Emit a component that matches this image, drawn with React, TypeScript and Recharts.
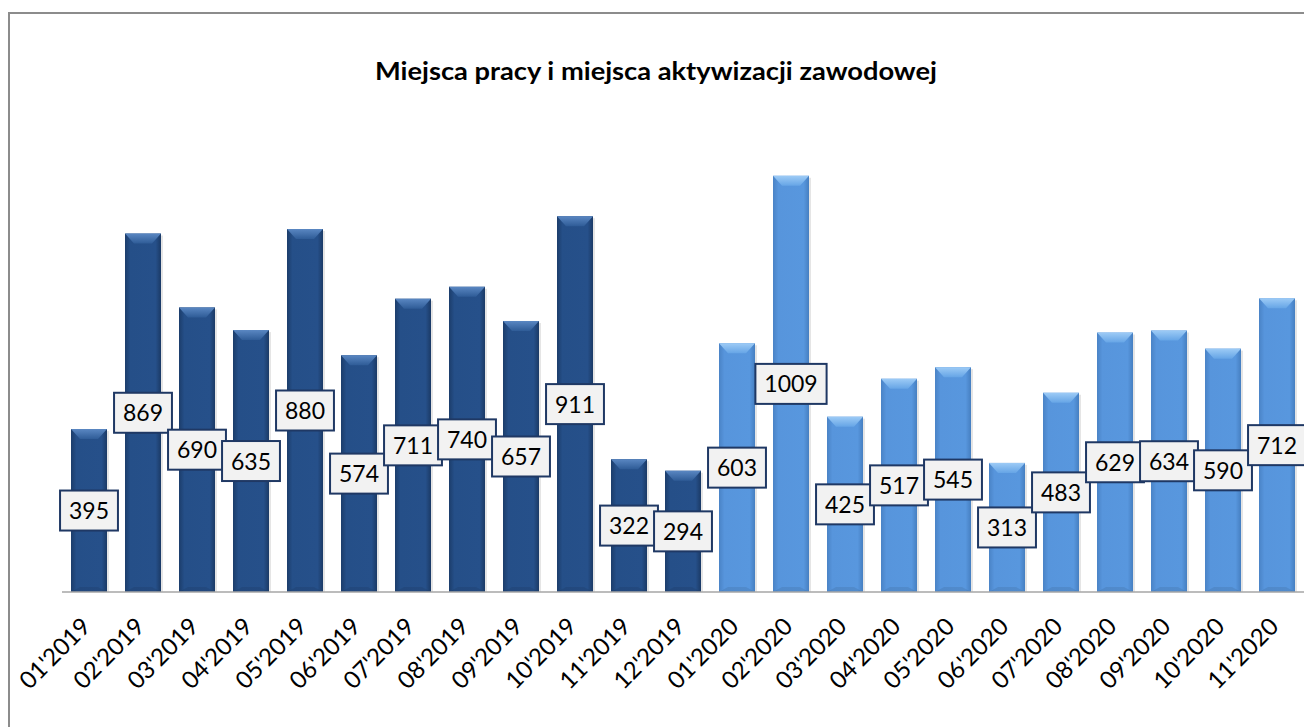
import { BarChart, Bar, XAxis, YAxis, LabelList } from 'recharts';

const months2019 = ["01'2019", "02'2019", "03'2019", "04'2019", "05'2019", "06'2019", "07'2019", "08'2019", "09'2019", "10'2019", "11'2019", "12'2019"];
const values2019 = [395, 869, 690, 635, 880, 574, 711, 740, 657, 911, 322, 294];
const months2020 = ["01'2020", "02'2020", "03'2020", "04'2020", "05'2020", "06'2020", "07'2020", "08'2020", "09'2020", "10'2020", "11'2020"];
const values2020 = [603, 1009, 425, 517, 545, 313, 483, 629, 634, 590, 712];

const data = [
  ...months2019.map((m, i) => ({ month: m, value: values2019[i], dark: true })),
  ...months2020.map((m, i) => ({ month: m, value: values2020[i], dark: false })),
];

const FONT = 'Lato, "Open Sans", sans-serif';

function BevelBar(props: any) {
  const { x, y, width, height, payload } = props;
  if (!height || height <= 0) return null;
  const k = payload.dark ? 'd' : 'l';
  const b = Math.min(10, height / 2);
  const inset = 9;
  return (
    <g>
      <rect x={x + 2} y={y + 2} width={width} height={height - 2} fill="#000" opacity={0.1} />
      <rect x={x} y={y} width={width} height={height} fill={`url(#body-${k})`} />
      <polygon
        points={`${x},${y} ${x + width},${y} ${x + width - inset},${y + b} ${x + inset},${y + b}`}
        fill={`url(#top-${k})`}
      />
      <polygon
        points={`${x},${y + height} ${x + width},${y + height} ${x + width - inset},${y + height - 5} ${x + inset},${y + height - 5}`}
        fill="#000"
        opacity={0.08}
      />
    </g>
  );
}

function ValueLabel(props: any) {
  const { x, y, width, height, value } = props;
  const cx = x + width / 2;
  const cy = y + height / 2;
  const s = String(value);
  const w = s.length * 13.3 + 18;
  const h = 40;
  return (
    <g>
      <rect x={cx - w / 2} y={cy - h / 2} width={w} height={h} fill="#f2f2f2" stroke="#1f3864" strokeWidth={2} />
      <text x={cx} y={cy + 8.5} textAnchor="middle" fontSize={23} fontFamily={FONT} fill="#000">
        {s}
      </text>
    </g>
  );
}

function MonthTick(props: any) {
  const { x, y, payload } = props;
  return (
    <g transform={`translate(${x + 3},${y + 28})`}>
      <text textAnchor="end" transform="rotate(-45)" fontSize={24} fontFamily={FONT} fill="#000">
        {payload.value}
      </text>
    </g>
  );
}

export default function App() {
  return (
    <div style={{ position: 'fixed', top: 0, left: 0, width: 1304, height: 727, overflow: 'hidden', background: '#fff' }}>
      <div
        style={{
          position: 'absolute',
          top: 12,
          left: 8,
          width: 1400,
          height: 900,
          borderTop: '2px solid #8c8c8c',
          borderLeft: '2px solid #8c8c8c',
        }}
      />
      <svg width={1304} height={100} style={{ position: 'absolute', top: 0, left: 0 }}>
        <text
          x={656}
          y={80}
          textAnchor="middle"
          fontSize={25}
          fontWeight="bold"
          fontFamily={FONT}
          fill="#000"
          textLength={562}
          lengthAdjust="spacingAndGlyphs"
        >
          Miejsca pracy i miejsca aktywizacji zawodowej
        </text>
      </svg>
      <div style={{ position: 'absolute', top: 0, left: 0 }}>
        <BarChart
          width={1304}
          height={727}
          data={data}
          margin={{ top: 97, right: 0, left: 62, bottom: 35 }}
          barCategoryGap={9}
        >
          <defs>
            <linearGradient id="body-d" x1="0" y1="0" x2="1" y2="0">
              <stop offset="0%" stopColor="#1c3d6b" />
              <stop offset="15%" stopColor="#254f88" />
              <stop offset="85%" stopColor="#26508a" />
              <stop offset="100%" stopColor="#1b3a66" />
            </linearGradient>
            <linearGradient id="body-l" x1="0" y1="0" x2="1" y2="0">
              <stop offset="0%" stopColor="#4a83c6" />
              <stop offset="15%" stopColor="#5795dc" />
              <stop offset="85%" stopColor="#5897de" />
              <stop offset="100%" stopColor="#467fc1" />
            </linearGradient>
            <linearGradient id="top-d" x1="0" y1="0" x2="0" y2="1">
              <stop offset="0%" stopColor="#5a87c2" />
              <stop offset="100%" stopColor="#2f5c97" />
            </linearGradient>
            <linearGradient id="top-l" x1="0" y1="0" x2="0" y2="1">
              <stop offset="0%" stopColor="#9dcbf6" />
              <stop offset="100%" stopColor="#66a5e6" />
            </linearGradient>
          </defs>
          <XAxis
            dataKey="month"
            interval={0}
            tickLine={false}
            axisLine={{ stroke: '#a6a6a6', strokeWidth: 1.5 }}
            height={100}
            tick={<MonthTick />}
          />
          <YAxis hide domain={[0, 1200]} />
          <Bar dataKey="value" shape={<BevelBar />} isAnimationActive={false}>
            <LabelList dataKey="value" content={<ValueLabel />} />
          </Bar>
        </BarChart>
      </div>
    </div>
  );
}
